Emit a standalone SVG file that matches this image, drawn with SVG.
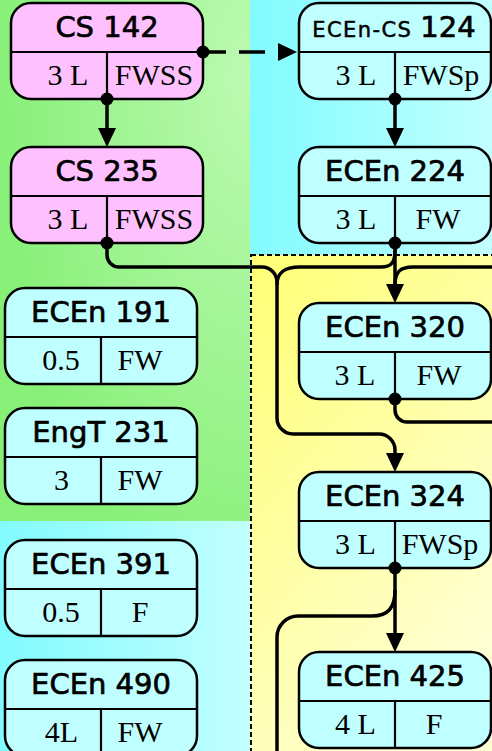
<svg xmlns="http://www.w3.org/2000/svg" width="492" height="751" viewBox="0 0 492 751">
<style>
.box{stroke:#000;stroke-width:2.5}
.cy{fill:#c0ffff}
.pk{fill:#ffc0ff}
.div{stroke:#000;stroke-width:2.2;fill:none}
.hd{font-family:"DejaVu Sans","Liberation Sans",sans-serif;font-size:29px;fill:#000;stroke:#000;stroke-width:0.7;text-anchor:middle}
.cl{font-family:"Liberation Serif","DejaVu Serif",serif;font-size:30px;fill:#000;text-anchor:middle}
.cn{fill:none;stroke:#000;stroke-width:3.5}
.dot{fill:#000}
</style>
<defs>
<radialGradient id="gGreen" cx="1" cy="0.15" r="1" fx="1" fy="0.15">
<stop offset="0" stop-color="#bcfab2"/>
<stop offset="1" stop-color="#88f078"/>
</radialGradient>
<linearGradient id="gCyan" x1="0" y1="0" x2="1" y2="0">
<stop offset="0" stop-color="#82fbff"/>
<stop offset="1" stop-color="#c2ffff"/>
</linearGradient>
<linearGradient id="gYel" x1="0" y1="0" x2="0.6" y2="1">
<stop offset="0" stop-color="#ffff74"/>
<stop offset="1" stop-color="#ffffd4"/>
</linearGradient>
<marker id="arr" markerUnits="userSpaceOnUse" markerWidth="19" markerHeight="18" refX="12" refY="9" orient="auto">
<path d="M0,0 L19,9 L0,18 Z" fill="#000"/>
</marker>
</defs>

<g id="background">
<rect x="0" y="0" width="250" height="521" fill="url(#gGreen)"/>
<rect x="250" y="0" width="242" height="255" fill="url(#gCyan)"/>
<rect x="0" y="521" width="250" height="230" fill="url(#gCyan)"/>
<rect x="251" y="255" width="245" height="500" fill="url(#gYel)" stroke="#000" stroke-width="2" stroke-dasharray="5 3"/>
</g>

<g id="connectors">
<path class="cn" d="M200,52 H290" stroke-dasharray="26 13" marker-end="url(#arr)"/>
<path class="cn" d="M107,99 V140" marker-end="url(#arr)"/>
<path class="cn" d="M395,99 V140" marker-end="url(#arr)"/>
<path class="cn" d="M395,243 V296" marker-end="url(#arr)"/>
<path class="cn" d="M107,243 V255 A12,12 0 0 0 119,267 H262 A15,15 0 0 1 277,282 V418 A16,16 0 0 0 293,434 H379 A16,16 0 0 1 395,450 V465" marker-end="url(#arr)"/>
<path class="cn" d="M395,250 C395,262 392,267 381,267 H300 C285,267 277,272 277,285"/>
<path class="cn" d="M496,267 H413 C400,267 395,272 395,285"/>
<path class="cn" d="M395,399 V410 A12,12 0 0 0 407,422 H496"/>
<path class="cn" d="M395,568 V645" marker-end="url(#arr)"/>
<path class="cn" d="M395,590 C395,608 388,616 372,616 H298 A21,21 0 0 0 277,637 V755"/>
</g>

<g id="n_cs142">
<rect class="box pk" x="11" y="3" width="192" height="96" rx="20"/>
<path class="div" d="M11,52 H203 M107,52 V99"/>
<text class="hd" x="107" y="37">CS 142</text>
<text class="cl" x="68" y="85">3 L</text>
<text class="cl" x="154" y="85">FWSS</text>
</g>
<g id="n_cs235">
<rect class="box pk" x="11" y="147" width="192" height="96" rx="20"/>
<path class="div" d="M11,196 H203 M107,196 V243"/>
<text class="hd" x="107" y="181">CS 235</text>
<text class="cl" x="68" y="229">3 L</text>
<text class="cl" x="154" y="229">FWSS</text>
</g>
<g id="n_ecencs124">
<rect class="box cy" x="299" y="3" width="192" height="96" rx="20"/>
<path class="div" d="M299,52 H491 M395,52 V99"/>
<text class="hd" x="394" y="37"><tspan font-size="21" letter-spacing="1.4" stroke-width="0.5">ECEn-CS </tspan><tspan>124</tspan></text>
<text class="cl" x="356" y="85">3 L</text>
<text class="cl" x="441" y="85">FWSp</text>
</g>
<g id="n_ecen224">
<rect class="box cy" x="299" y="147" width="192" height="96" rx="20"/>
<path class="div" d="M299,196 H491 M395,196 V243"/>
<text class="hd" x="395" y="181">ECEn 224</text>
<text class="cl" x="356" y="229">3 L</text>
<text class="cl" x="438" y="229">FW</text>
</g>
<g id="n_ecen320">
<rect class="box cy" x="299" y="303" width="192" height="96" rx="20"/>
<path class="div" d="M299,352 H491 M395,352 V399"/>
<text class="hd" x="395" y="337">ECEn 320</text>
<text class="cl" x="355" y="385">3 L</text>
<text class="cl" x="439" y="385">FW</text>
</g>
<g id="n_ecen324">
<rect class="box cy" x="299" y="472" width="192" height="96" rx="20"/>
<path class="div" d="M299,521 H491 M395,521 V568"/>
<text class="hd" x="395" y="506">ECEn 324</text>
<text class="cl" x="355.5" y="554">3 L</text>
<text class="cl" x="440" y="554">FWSp</text>
</g>
<g id="n_ecen425">
<rect class="box cy" x="299" y="652" width="192" height="96" rx="20"/>
<path class="div" d="M299,701 H491 M395,701 V748"/>
<text class="hd" x="395" y="686">ECEn 425</text>
<text class="cl" x="355.5" y="734">4 L</text>
<text class="cl" x="434" y="734">F</text>
</g>
<g id="n_ecen191">
<rect class="box cy" x="5" y="288" width="192" height="96" rx="20"/>
<path class="div" d="M5,337 H197 M101,337 V384"/>
<text class="hd" x="101" y="322">ECEn 191</text>
<text class="cl" x="61" y="370">0.5</text>
<text class="cl" x="140" y="370">FW</text>
</g>
<g id="n_engt231">
<rect class="box cy" x="5" y="408" width="192" height="96" rx="20"/>
<path class="div" d="M5,457 H197 M101,457 V504"/>
<text class="hd" x="101" y="442">EngT 231</text>
<text class="cl" x="61.5" y="490">3</text>
<text class="cl" x="140" y="490">FW</text>
</g>
<g id="n_ecen391">
<rect class="box cy" x="5" y="540" width="192" height="96" rx="20"/>
<path class="div" d="M5,589 H197 M101,589 V636"/>
<text class="hd" x="101" y="574">ECEn 391</text>
<text class="cl" x="61" y="622">0.5</text>
<text class="cl" x="140" y="622">F</text>
</g>
<g id="n_ecen490">
<rect class="box cy" x="5" y="660" width="192" height="96" rx="20"/>
<path class="div" d="M5,709 H197 M101,709 V756"/>
<text class="hd" x="101" y="694">ECEn 490</text>
<text class="cl" x="61.5" y="742">4L</text>
<text class="cl" x="140" y="742">FW</text>
</g>

<g id="dots">
<circle class="dot" cx="203" cy="52" r="6.5"/>
<circle class="dot" cx="107" cy="99" r="6.5"/>
<circle class="dot" cx="395" cy="99" r="6.5"/>
<circle class="dot" cx="107" cy="243" r="6.5"/>
<circle class="dot" cx="395" cy="243" r="6.5"/>
<circle class="dot" cx="395" cy="399" r="6.5"/>
<circle class="dot" cx="395" cy="568" r="6.5"/>
</g>
</svg>
